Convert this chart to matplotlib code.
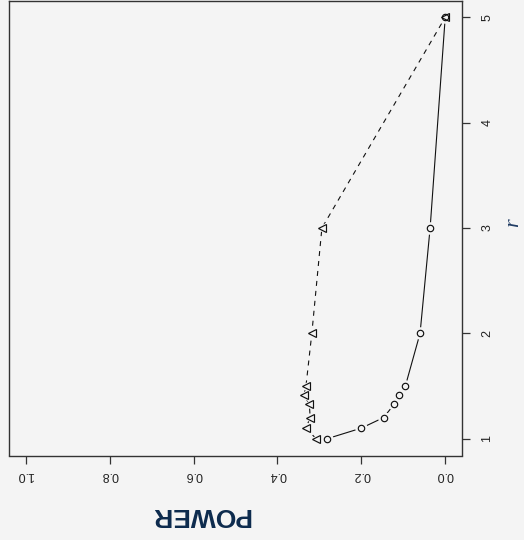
import matplotlib.pyplot as plt

# значения r и мощности
r_vals = [1.0, 1.1, 1.2, 1.33, 1.41, 1.5, 2.0, 3.0, 5.0]
power_circle = [0.281, 0.200, 0.147, 0.121, 0.111, 0.095, 0.060, 0.036, 0.0]
power_triangle = [0.308, 0.332, 0.322, 0.324, 0.337, 0.332, 0.318, 0.294, 0.0]

power_ticks = [0.0, 0.2, 0.4, 0.6, 0.8, 1.0]
power_labels = ['0.0', '0.2', '0.4', '0.6', '0.8', '1.0']
r_ticks = [1, 2, 3, 4, 5]
r_labels = ['1', '2', '3', '4', '5']

bg = '#f4f4f4'
ink = '#111111'

fig = plt.figure(figsize=(5.24, 5.40), dpi=100, facecolor=bg)
ax = fig.add_axes([9 / 524, 1 - 455.5 / 540, 453 / 524, 455 / 540])
ax.set_facecolor(bg)

# линия с точками (сплошная, кружки)
ax.plot(power_circle, r_vals, color=ink, linewidth=0.8, zorder=2)
ax.plot(power_circle, r_vals, linestyle='none', marker='o', markersize=8,
        markerfacecolor=bg, markeredgecolor=bg, zorder=3)
ax.plot(power_circle, r_vals, linestyle='none', marker='o', markersize=4.6,
        markerfacecolor='none', markeredgecolor=ink, markeredgewidth=0.85, zorder=4)

# пунктир с треугольниками
ax.plot(power_triangle, r_vals, color=ink, linewidth=0.8, dashes=(4.5, 4.5), zorder=2)
ax.plot(power_triangle, r_vals, linestyle='none', marker='<', markersize=9,
        markerfacecolor=bg, markeredgecolor=bg, zorder=3)
ax.plot(power_triangle, r_vals, linestyle='none', marker='<', markersize=5.4,
        markerfacecolor='none', markeredgecolor=ink, markeredgewidth=0.85, zorder=4)

ax.set_xlim(1.04, -0.04)
ax.set_ylim(0.84, 5.16)

ax.set_xticks(power_ticks)
ax.set_xticklabels(power_labels, rotation=180, fontsize=9,
                   family=['Liberation Sans', 'DejaVu Sans'], color='#222222')
ax.yaxis.tick_right()
ax.set_yticks(r_ticks)
ax.set_yticklabels(r_labels, rotation=90, fontsize=9, va='center',
                   family=['Liberation Sans', 'DejaVu Sans'], color='#222222')
ax.tick_params(axis='x', length=6, width=0.9, pad=4, color='#333333')
ax.tick_params(axis='y', length=6, width=0.9, pad=8, color='#333333')

for side in ax.spines.values():
    side.set_color('#333333')
    side.set_linewidth(1.0)

fig.text(200 / 524, 1 - 515 / 540, 'POWER', rotation=180, ha='center', va='center',
         fontsize=19, fontweight='bold', color='#0c2a4d',
         family=['Liberation Sans', 'DejaVu Sans'])
fig.text(514 / 524, 1 - 223 / 540, 'r', rotation=90, ha='center', va='center',
         fontsize=16, style='italic', color='#1f3b63',
         family=['Liberation Serif', 'DejaVu Serif'])

fig.savefig('out.png', dpi=100, facecolor=bg)
